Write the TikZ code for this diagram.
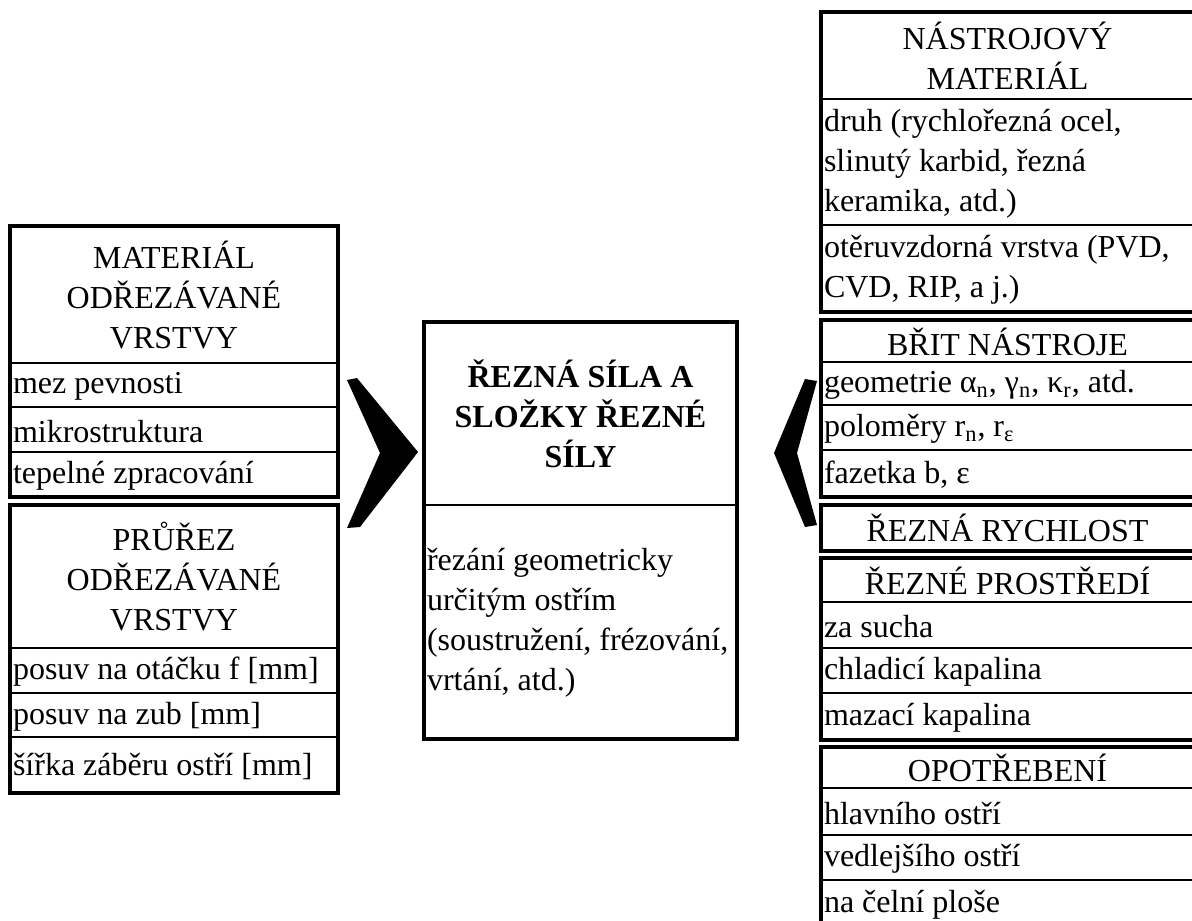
\documentclass[tikz,border=0pt]{standalone}
\usepackage{fontspec}
\setmainfont{Liberation Serif}
\usetikzlibrary{fit}
\begin{document}
\begin{tikzpicture}[x=0.5pt,y=-0.5pt,
  cell/.style={draw, line width=1.4pt, inner sep=0pt},
  txt/.style={anchor=west, inner sep=0pt, align=left, xshift=1.5pt, yshift=-0.8pt,
    font=\fontsize{16}{20}\selectfont},
  ttl/.style={anchor=center, inner sep=0pt, align=center,
    font=\fontsize{16}{20}\selectfont},
  outer/.style={draw, line width=2pt},
  chev/.style={fill=black}]
\useasboundingbox (0,0) rectangle (1192,920);
% ---------- left column ----------
\node[cell, fit={(11,227) (337,363)}] (l1t) {};
\node[cell, fit={(11,363) (337,407)}] (l1a) {};
\node[cell, fit={(11,407) (337,452)}] (l1b) {};
\node[cell, fit={(11,452) (337,496)}] (l1c) {};
\node[ttl] (l1tt) at (l1t.center) {MATERIÁL\\ODŘEZÁVANÉ\\VRSTVY};
\node[txt] (l1at) at (l1a.west) {mez pevnosti};
\node[txt] (l1bt) at (l1b.west) {mikrostruktura};
\node[txt] (l1ct) at (l1c.west) {tepelné zpracování};
\draw[outer] (l1t.north west) rectangle (l1c.south east);
\node[cell, fit={(11,506) (337,648)}] (l2t) {};
\node[cell, fit={(11,648) (337,693)}] (l2a) {};
\node[cell, fit={(11,693) (337,737)}] (l2b) {};
\node[cell, fit={(11,737) (337,792)}] (l2c) {};
\node[ttl] (l2tt) at (l2t.center) {PRŮŘEZ\\ODŘEZÁVANÉ\\VRSTVY};
\node[txt] (l2at) at (l2a.west) {posuv na otáčku f [mm]};
\node[txt] (l2bt) at (l2b.west) {posuv na zub [mm]};
\node[txt] (l2ct) at (l2c.west) {šířka záběru ostří [mm]};
\draw[outer] (l2t.north west) rectangle (l2c.south east);
% ---------- centre ----------
\node[cell, fit={(425,323) (736,505)}] (ct) {};
\node[cell, fit={(425,505) (736,738)}] (cb) {};
\node[ttl, font=\fontsize{16}{20}\selectfont\bfseries] (ctt) at (ct.center)
  {ŘEZNÁ SÍLA A\\SLOŽKY ŘEZNÉ\\SÍLY};
\node[txt] (cbt) at (cb.west) {řezání geometricky\\určitým ostřím\\(soustružení, frézování,\\vrtání, atd.)};
\draw[outer] (ct.north west) rectangle (cb.south east);
% ---------- right column ----------
\node[cell, fit={(822,13) (1193,99)}] (r1t) {};
\node[cell, fit={(822,99) (1193,225)}] (r1a) {};
\node[cell, fit={(822,225) (1193,311)}] (r1b) {};
\node[ttl] (r1tt) at (r1t.center) {NÁSTROJOVÝ\\MATERIÁL};
\node[txt] (r1at) at (r1a.west) {druh (rychlořezná ocel,\\slinutý karbid, řezná\\keramika, atd.)};
\node[txt] (r1bt) at (r1b.west) {otěruvzdorná vrstva (PVD,\\CVD, RIP, a j.)};
\draw[outer] (r1t.north west) rectangle (r1b.south east);
\node[cell, fit={(822,321) (1193,362)}] (r2t) {};
\node[cell, fit={(822,362) (1193,405)}] (r2a) {};
\node[cell, fit={(822,405) (1193,450)}] (r2b) {};
\node[cell, fit={(822,450) (1193,496)}] (r2c) {};
\node[ttl] (r2tt) at (r2t.center) {BŘIT NÁSTROJE};
\node[txt] (r2at) at (r2a.west) {geometrie α\textsubscript{n}, γ\textsubscript{n}, κ\textsubscript{r}, atd.};
\node[txt] (r2bt) at (r2b.west) {poloměry r\textsubscript{n}, r\textsubscript{ε}};
\node[txt] (r2ct) at (r2c.west) {fazetka b, ε};
\draw[outer] (r2t.north west) rectangle (r2c.south east);
\node[cell, fit={(822,506) (1193,550)}] (r3) {};
\node[ttl] (r3t) at (r3.center) {ŘEZNÁ RYCHLOST};
\draw[outer] (r3.north west) rectangle (r3.south east);
\node[cell, fit={(822,559) (1193,602)}] (r4t) {};
\node[cell, fit={(822,602) (1193,648)}] (r4a) {};
\node[cell, fit={(822,648) (1193,693)}] (r4b) {};
\node[cell, fit={(822,693) (1193,739)}] (r4c) {};
\node[ttl] (r4tt) at (r4t.center) {ŘEZNÉ PROSTŘEDÍ};
\node[txt] (r4at) at (r4a.west) {za sucha};
\node[txt] (r4bt) at (r4b.west) {chladicí kapalina};
\node[txt] (r4ct) at (r4c.west) {mazací kapalina};
\draw[outer] (r4t.north west) rectangle (r4c.south east);
\node[cell, fit={(822,748) (1193,788)}] (r5t) {};
\node[cell, fit={(822,788) (1193,835)}] (r5a) {};
\node[cell, fit={(822,835) (1193,880)}] (r5b) {};
\node[cell, fit={(822,880) (1193,926)}] (r5c) {};
\node[ttl] (r5tt) at (r5t.center) {OPOTŘEBENÍ};
\node[txt] (r5at) at (r5a.west) {hlavního ostří};
\node[txt] (r5bt) at (r5b.west) {vedlejšího ostří};
\node[txt] (r5ct) at (r5c.west) {na čelní ploše};
\draw[outer] (r5t.north west) rectangle (r5c.south east);
% ---------- chevrons ----------
\fill[chev] (347,380) -- (357,378) -- (418,452) -- (360,527) -- (347,528) -- (380,453) -- cycle;
\fill[chev] (817,381) -- (805,379) -- (774,453) -- (805,527) -- (817,525) -- (797,453) -- cycle;
\end{tikzpicture}
\end{document}
